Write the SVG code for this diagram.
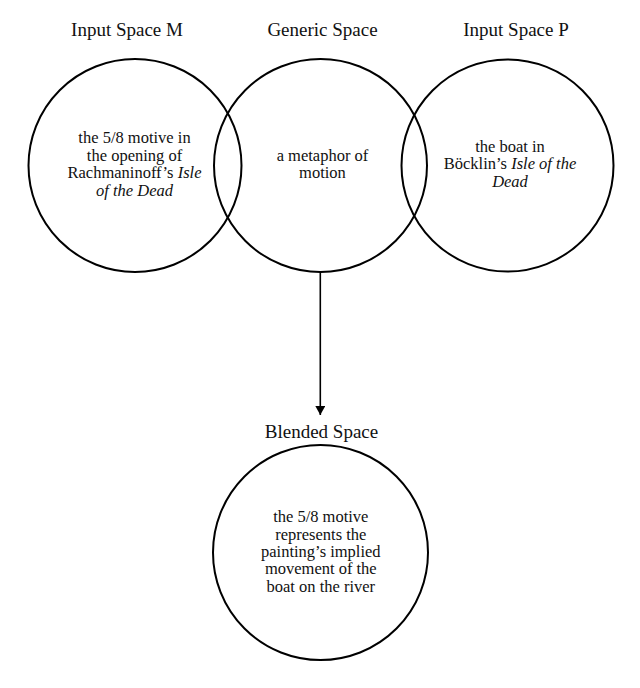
<svg xmlns="http://www.w3.org/2000/svg" width="640" height="688" viewBox="0 0 640 688">
<style>
.c{fill:none;stroke:#000;stroke-width:2}
.t{font-family:"Liberation Serif","Times New Roman",serif;font-size:19px;fill:#111;text-anchor:middle}
.b{font-family:"Liberation Serif","Times New Roman",serif;font-size:16.5px;fill:#111;text-anchor:middle}
.i{font-style:italic}
.a{stroke:#000;stroke-width:1.6;fill:none}
</style>
<defs>
<marker id="ah" markerWidth="10" markerHeight="10" refX="9" refY="5" orient="auto" markerUnits="userSpaceOnUse">
<path d="M0,0 L9,5 L0,10 Z" fill="#000"/>
</marker>
</defs>
<rect width="640" height="688" fill="#fff"/>
<g id="input-m">
<circle class="c" cx="135" cy="165.5" r="106.5"/>
<text class="t" x="127" y="36">Input Space M</text>
<text class="b" x="134.5" y="142.7">the 5/8 motive in</text>
<text class="b" x="134.5" y="160.5">the opening of</text>
<text class="b" x="134.5" y="178.3">Rachmaninoff’s <tspan class="i">Isle</tspan></text>
<text class="b i" x="134.5" y="196">of the Dead</text>
</g>
<g id="generic">
<circle class="c" cx="320.5" cy="165.5" r="106.5"/>
<text class="t" x="322.5" y="36">Generic Space</text>
<text class="b" x="322.5" y="160.5">a metaphor of</text>
<text class="b" x="322.5" y="178.3">motion</text>
</g>
<g id="input-p">
<circle class="c" cx="507.5" cy="165.5" r="106"/>
<text class="t" x="516" y="36">Input Space P</text>
<text class="b" x="510" y="151.7">the boat in</text>
<text class="b" x="510" y="169.3">Böcklin’s <tspan class="i">Isle of the</tspan></text>
<text class="b i" x="510" y="186.9">Dead</text>
</g>
<g id="blended">
<circle class="c" cx="320.5" cy="552.5" r="107.5"/>
<text class="t" x="321.5" y="438.3">Blended Space</text>
<text class="b" x="320.8" y="522.3">the 5/8 motive</text>
<text class="b" x="320.8" y="539.6">represents the</text>
<text class="b" x="320.8" y="556.9">painting’s implied</text>
<text class="b" x="320.8" y="574.2">movement of the</text>
<text class="b" x="320.8" y="591.5">boat on the river</text>
</g>
<g id="connectors">
<line class="a" x1="320.3" y1="272" x2="320.3" y2="415" marker-end="url(#ah)"/>
</g>
</svg>
